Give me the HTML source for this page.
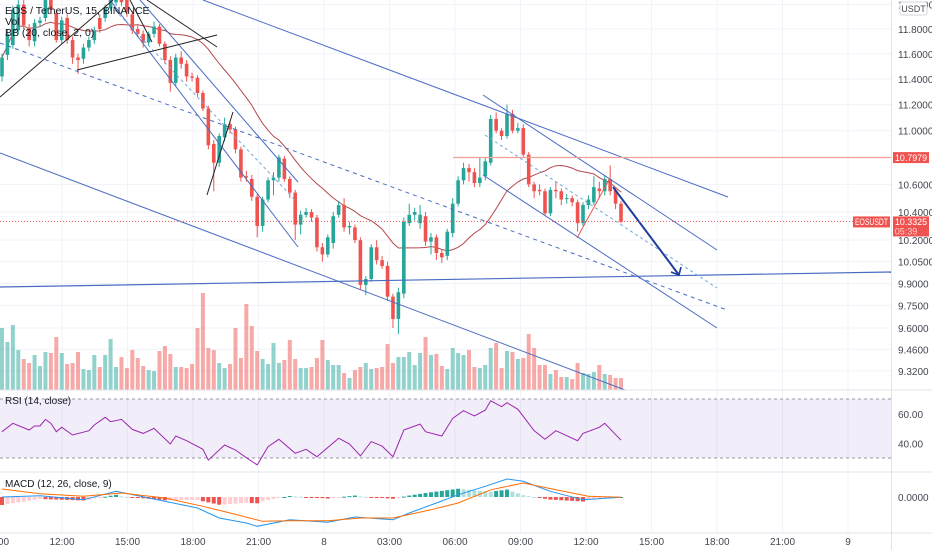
<!DOCTYPE html>
<html><head><meta charset="utf-8"><style>
html,body{margin:0;padding:0;background:#fff;}
svg{display:block;font-family:"Liberation Sans",sans-serif;}
</style></head><body>
<svg id="chart" width="932" height="550" viewBox="0 0 932 550" xmlns="http://www.w3.org/2000/svg">
<rect x="0" y="0" width="932" height="550" fill="#ffffff"/>
<g id="grid"></g>
<g id="drawings-under"></g>
<g id="vol"></g>
<g id="bb"></g>
<g id="candles"></g>
<g id="drawings"></g>
<g id="rsi"></g>
<g id="macd"></g>
<g id="axes"></g>
<g id="legend">
<text x="5" y="14" font-size="10.5" fill="#131722">EOS / TetherUS, 15, BINANCE</text>
<text x="5" y="25" font-size="10.5" fill="#131722">Vol</text>
<text x="5" y="36" font-size="10.5" fill="#131722">BB (20, close, 2, 0)</text>
<text x="5" y="404" font-size="10" fill="#131722">RSI (14, close)</text>
<text x="5" y="487" font-size="10" fill="#131722">MACD (12, 26, close, 9)</text>
</g>
</svg>
<script>
const opens=[11.42,11.59,11.67,11.79,12.00,11.81,11.70,11.85,11.89,12.04,11.93,11.71,11.89,11.71,11.57,11.56,11.65,11.71,11.89,11.89,11.97,12.02,12.06,12.04,11.92,11.80,11.76,11.69,11.76,11.82,11.68,11.55,11.37,11.57,11.52,11.42,11.41,11.29,11.17,10.90,10.76,10.95,11.05,11.01,10.86,10.66,10.64,10.51,10.30,10.49,10.63,10.65,10.79,10.64,10.54,10.31,
10.38,10.40,10.36,10.15,10.10,10.18,10.38,10.45,10.29,10.29,10.20,9.89,9.93,10.15,10.06,10.02,9.81,9.66,9.83,10.32,10.38,10.32,10.37,10.19,10.22,10.11,10.09,10.25,10.46,10.63,10.72,10.69,10.61,10.66,10.76,11.09,11.00,10.96,11.13,11.00,11.02,10.82,10.60,10.56,10.55,10.39,10.56,10.55,10.50,10.50,10.47,10.32,10.45,10.47,10.57,10.55,10.64,10.56,10.46];
const closes=[11.57,11.76,11.96,12.00,11.83,11.71,11.85,11.87,12.04,11.96,11.71,11.87,11.71,11.57,11.55,11.65,11.71,11.79,11.80,11.97,12.04,12.08,12.02,11.94,11.79,11.76,11.69,11.76,11.82,11.68,11.55,11.37,11.57,11.52,11.42,11.41,11.29,11.17,10.89,10.76,10.96,11.05,11.01,10.86,10.65,10.65,10.51,10.30,10.49,10.63,10.65,10.80,10.64,10.54,10.31,10.38,
10.40,10.36,10.15,10.10,10.22,10.37,10.45,10.29,10.30,10.20,9.89,9.93,10.15,10.06,10.02,9.81,9.66,9.84,10.33,10.38,10.40,10.38,10.19,10.22,10.11,10.08,10.26,10.46,10.63,10.72,10.69,10.61,10.65,10.77,11.09,11.00,10.96,11.13,11.00,11.02,10.82,10.60,10.55,10.55,10.39,10.56,10.55,10.49,10.50,10.47,10.32,10.45,10.49,10.58,10.55,10.64,10.55,10.46,10.33];
const highs=[11.60,11.80,11.99,12.06,12.06,11.84,11.88,11.90,12.08,12.06,11.96,11.90,11.92,11.74,11.60,11.68,11.74,11.82,11.92,12.00,12.08,12.10,12.10,12.06,11.95,11.83,11.79,11.78,11.86,11.84,11.70,11.58,11.60,11.62,11.55,11.45,11.43,11.31,11.19,10.93,10.98,11.10,11.08,11.03,10.88,10.70,10.67,10.53,10.51,10.65,10.69,10.82,10.81,10.66,10.56,10.41,
10.43,10.42,10.38,10.18,10.24,10.40,10.48,10.50,10.33,10.31,10.22,9.95,10.17,10.20,10.09,10.05,9.83,9.87,10.36,10.46,10.43,10.45,10.40,10.25,10.24,10.13,10.28,10.50,10.66,10.76,10.75,10.72,10.80,10.80,11.12,11.14,11.02,11.20,11.16,11.06,11.05,10.84,10.62,10.60,10.57,10.58,10.62,10.57,10.53,10.52,10.49,10.47,10.52,10.66,10.62,10.67,10.74,10.58,10.48];
const lows=[11.38,11.55,11.64,11.76,11.80,11.66,11.66,11.82,11.86,11.92,11.69,11.68,11.68,11.52,11.44,11.52,11.62,11.68,11.77,11.86,11.95,11.99,11.99,11.90,11.76,11.73,11.65,11.67,11.73,11.66,11.52,11.30,11.34,11.48,11.38,11.38,11.26,11.15,10.86,10.55,10.73,10.92,10.98,10.83,10.62,10.62,10.48,10.22,10.26,10.47,10.52,10.62,10.62,10.50,10.20,10.24,
10.36,10.33,10.12,10.05,10.08,10.14,10.36,10.26,10.24,10.18,9.86,9.82,9.91,10.03,10.00,9.78,9.60,9.56,9.80,10.30,10.34,10.28,10.16,10.10,10.06,10.04,10.06,10.22,10.44,10.60,10.62,10.58,10.58,10.63,10.74,10.98,10.93,10.94,10.98,10.98,10.80,10.58,10.50,10.52,10.37,10.37,10.50,10.45,10.46,10.44,10.26,10.30,10.42,10.45,10.50,10.52,10.52,10.42,10.32];
const volumes=[62,48,65,40,31,27,35,24,38,37,53,37,26,27,38,21,20,35,23,35,51,23,33,22,40,32,24,20,19,39,44,36,23,23,22,26,62,97,42,40,27,22,26,62,32,86,64,39,31,26,47,27,30,50,31,22,
22,23,32,50,30,25,25,17,12,20,23,27,21,22,23,46,27,33,33,38,25,37,53,35,36,24,21,42,37,35,40,23,22,25,42,47,22,39,38,31,32,56,42,25,25,16,20,13,13,11,27,17,16,18,25,16,15,12,12];
const rsiIdx=[0,2,5,6,7,8,9,10,11,13,16,17,19,20,22,24,26,28,31,32,34,37,38,41,43,45,47,49,51,54,56,58,62,64,66,68,70,72,74,77,78,81,83,85,87,89,90,92,93,95,98,100,102,106,107,110,111,114];
const rsiVal=[47.8,53.5,49,51.7,51.7,56.2,53.5,47.8,50.8,45.6,48.5,52.4,57.6,54.6,56.2,49.4,46.7,50.1,39.5,44.9,41.7,35.9,28.6,38.8,35.4,30.2,25.3,37.7,42.7,33.2,35.9,30.9,43.4,39.5,31.4,41.1,38.1,30.9,49,53,47.8,44.9,56.9,62.1,58.5,62.5,68.8,64.8,67.5,63,48.5,42.7,48.5,41.7,46.7,50.8,53.5,42.1];
const macdIdx=[0,7,15,21,30,36,40,45,47,53,60,65,72,75,80,84,89,93,96,101,107,114];
const macdVal=[0,5,-11,23,-17,-44,-84,-104,-117,-91,-101,-80,-91,-64,-24,9,43,72,63,23,-11,-1];
const signalIdx=[0,7,15,22,30,37,42,48,53,60,66,72,79,84,90,96,102,108,114];
const signalVal=[32,13,3,16,-4,-37,-64,-97,-95,-95,-84,-84,-51,-24,29,56,29,3,-1];
const priceTicks=[12.0,11.8,11.6,11.4,11.2,11.0,10.6,10.4,10.2,10.05,9.9,9.75,9.6,9.46,9.32];
const rsiTicks=[60,40];
const timeLabels=["09:00","12:00","15:00","18:00","21:00","8","03:00","06:00","09:00","12:00","15:00","18:00","21:00","9"];
const lastPrice=10.3325;
const hLevel=10.7979;

const NS="http://www.w3.org/2000/svg";
const PLOT_R=891;
function X(i){return 2+5.43*i;}
function Y(p){return 29+1449*(Math.log(11.8)-Math.log(p));}
function VY(v){return 390-v;}
function RY(v){return 399+(70-v)*1.475;}
function MY(v){return 497-v/4;}
function TX(k){return -3.5+65.5*k;}
function mk(parent,tag,attrs){const e=document.createElementNS(NS,tag);for(const k in attrs)e.setAttribute(k,attrs[k]);document.getElementById(parent).appendChild(e);return e;}

for(let k=0;k<timeLabels.length;k++){
  const l=mk('grid','line',{x1:TX(k),x2:TX(k),y1:0,y2:533,stroke:'#f0f3fa','stroke-width':1});
  
  
}
for(const p of priceTicks){
  const l=mk('grid','line',{x1:0,x2:PLOT_R,y1:Y(p),y2:Y(p),stroke:'#f0f3fa','stroke-width':1});
  
  
}
for(let i=0;i<volumes.length;i++){
  const up=closes[i]>=opens[i];
  const r=mk('vol','rect',{x:X(i)-2,y:VY(volumes[i]),width:4,height:volumes[i],fill:up?'rgba(38,166,154,0.5)':'rgba(239,83,80,0.5)'});
  
  
}
let bbPts=[];
for(let i=0;i<closes.length;i++){
  const s=Math.max(0,i-19);let sum=0;for(let j=s;j<=i;j++)sum+=closes[j];
  bbPts.push(X(i).toFixed(1)+','+Y(sum/(i-s+1)).toFixed(1));
}
const bbl=mk('bb','polyline',{points:bbPts.join(' '),fill:'none',stroke:'#b5484b','stroke-width':1});


for(let i=0;i<opens.length;i++){
  const up=closes[i]>=opens[i];const c=up?'#26a69a':'#ef5350';
  const w=mk('candles','line',{x1:X(i),x2:X(i),y1:Y(highs[i]),y2:Y(lows[i]),stroke:c,'stroke-width':1});
  
  
  const t=Math.min(Y(opens[i]),Y(closes[i]));const h=Math.max(1,Math.abs(Y(opens[i])-Y(closes[i])));
  const b=mk('candles','rect',{x:X(i)-1.8,y:t,width:3.6,height:h,fill:c});
  
  
}
const blue='#4a6cc2';
const drawLines=[
 [203,0,728,197,blue,1,''],
 [110,0,298,247,blue,1,''],
 [140,0,298,182,blue,1,''],
 [115,10,295,200,'#6fa8dc',1,'3,3'],
 [0,43,727,310,blue,1,'4,4'],
 [0,153,625,390,blue,1,''],
 [0,287,891,272,blue,1.2,''],
 [483,95,717,250,blue,1,''],
 [483,175,717,328,blue,1,''],
 [485,135,717,288,'#6fa8dc',1,'3,3'],
 [0,97,113,0,'#222',1,''],
 [77,70,217,35,'#222',1,''],
 [147,0,217,47,'#222',1,''],
 [130,0,152,42,'#222',1,''],
 [207,195,233,112,'#222',1,''],
 [577,238,610,178,'#ef5350',1,''],
 [453,157.5,PLOT_R,157.5,'#f5a097',1.2,'']
];
for(const d of drawLines){
  const l=mk('drawings','line',{x1:d[0],y1:d[1],x2:d[2],y2:d[3],stroke:d[4],'stroke-width':d[5]});
  if(d[6])l.setAttribute('stroke-dasharray',d[6]);
  
  
}
const arr=mk('drawings','line',{x1:613,y1:187,x2:679,y2:275,stroke:'#1f3f9a','stroke-width':2});


const ah=mk('drawings','polyline',{points:'671,272 679,275 681,267',fill:'none',stroke:'#1f3f9a','stroke-width':1.6});


const pl=mk('drawings','line',{x1:0,x2:PLOT_R,y1:Y(lastPrice),y2:Y(lastPrice),stroke:'#ef5350','stroke-width':1,'stroke-dasharray':'1,2'});



const band=mk('rsi','rect',{x:0,y:RY(70),width:PLOT_R,height:RY(30)-RY(70),fill:'rgba(126,87,194,0.1)'});


for(const v of [70,30]){
  const l=mk('rsi','line',{x1:0,x2:PLOT_R,y1:RY(v),y2:RY(v),stroke:'#9598a1','stroke-width':1,'stroke-dasharray':'3,3'});
  
  
}
const rl=mk('rsi','polyline',{points:rsiIdx.map((k,j)=>X(k).toFixed(1)+','+RY(rsiVal[j]).toFixed(1)).join(' '),fill:'none',stroke:'#9c27b0','stroke-width':1});



function interp(idx,val,i){for(let j=0;j<idx.length-1;j++){if(i>=idx[j]&&i<=idx[j+1]){const t=(i-idx[j])/(idx[j+1]-idx[j]);return val[j]+t*(val[j+1]-val[j]);}}return val[val.length-1];}
let prevH=0;
for(let i=0;i<closes.length;i++){
  const h=interp(macdIdx,macdVal,i)-interp(signalIdx,signalVal,i);
  let c;if(h>=0)c=h>=prevH?'#26a69a':'#b2dfdb';else c=h<=prevH?'#ef5350':'#ffcdd2';
  prevH=h;
  const y1=MY(Math.max(h,0)),y2=MY(Math.min(h,0));
  const r=mk('macd','rect',{x:X(i)-2,y:y1,width:4,height:Math.max(1,y2-y1),fill:c});
  
  
}
const ml=mk('macd','polyline',{points:macdIdx.map((k,j)=>X(k).toFixed(1)+','+MY(macdVal[j]).toFixed(1)).join(' '),fill:'none',stroke:'#2196f3','stroke-width':1});


const sl=mk('macd','polyline',{points:signalIdx.map((k,j)=>X(k).toFixed(1)+','+MY(signalVal[j]).toFixed(1)).join(' '),fill:'none',stroke:'#ff6d00','stroke-width':1});



for(const y of [390,472,533]){
  const l=mk('axes','line',{x1:0,x2:932,y1:y,y2:y,stroke:'#e0e3eb','stroke-width':1});
  
  
}
const va=mk('axes','line',{x1:PLOT_R+0.5,x2:PLOT_R+0.5,y1:0,y2:550,stroke:'#e0e3eb','stroke-width':1});


for(const p of priceTicks){
  const t=mk('axes','text',{x:898,y:Y(p)+4,'font-size':10,fill:'#434651'});
  t.textContent=p.toFixed(4);
  
  
}
for(const v of rsiTicks){
  const t=mk('axes','text',{x:898,y:RY(v)+4,'font-size':10,fill:'#434651'});
  t.textContent=v.toFixed(2);
  
  
}
const z=mk('axes','text',{x:898,y:MY(0)+4,'font-size':10,fill:'#434651'});
z.textContent='0.0000';


for(let k=0;k<timeLabels.length;k++){
  const t=mk('axes','text',{x:TX(k),y:545,'font-size':10,fill:'#434651','text-anchor':'middle'});
  t.textContent=timeLabels[k];
  
  
}
const ub=mk('axes','rect',{x:900,y:2,width:27,height:13,fill:'#fff',stroke:'#d1d4dc','stroke-width':1,rx:2});


const ut=mk('axes','text',{x:913.5,y:12,'font-size':9,fill:'#434651','text-anchor':'middle'});
ut.textContent='USDT';


const hb=mk('axes','rect',{x:893,y:Y(hLevel)-5.5,width:36,height:11,fill:'#ef5350'});


const ht=mk('axes','text',{x:911,y:Y(hLevel)+3.5,'font-size':9.5,fill:'#fff','text-anchor':'middle',textLength:32,lengthAdjust:'spacingAndGlyphs'});
ht.textContent=hLevel.toFixed(4);


const sb=mk('axes','rect',{x:853,y:Y(lastPrice)-5,width:37,height:11,fill:'#ef5350'});


const st=mk('axes','text',{x:871.5,y:Y(lastPrice)+3.5,'font-size':9,fill:'#fff','text-anchor':'middle',textLength:33,lengthAdjust:'spacingAndGlyphs'});
st.textContent='EOSUSDT';


const lb=mk('axes','rect',{x:893,y:Y(lastPrice)-5,width:36,height:20,fill:'#ef5350'});


const lt=mk('axes','text',{x:911,y:Y(lastPrice)+3.5,'font-size':9.5,fill:'#fff','text-anchor':'middle',textLength:32,lengthAdjust:'spacingAndGlyphs'});
lt.textContent=lastPrice.toFixed(4);


const ct=mk('axes','text',{x:906,y:Y(lastPrice)+13,'font-size':9,fill:'#ffd0ce','text-anchor':'middle'});
ct.textContent='05:39';


</script>
</body></html>
